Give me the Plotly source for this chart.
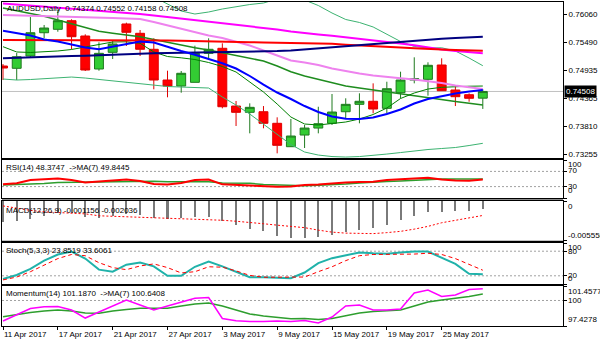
import plotly.graph_objects as go

# ---------------- AUDUSD daily, 11 Apr 2017 - 30 May 2017 ----------------
opens = [0.75018, 0.74972, 0.75218, 0.75685, 0.75753, 0.75926, 0.75619, 0.74958, 0.75292, 0.75860,
         0.75673, 0.75353, 0.74737, 0.74617, 0.74691, 0.75272, 0.75373, 0.74216, 0.74090, 0.74102,
         0.73870, 0.73401, 0.73635, 0.73775, 0.73870, 0.74102, 0.74250, 0.74311, 0.74170, 0.74483,
         0.74737, 0.74751, 0.75038, 0.74537, 0.74443, 0.74374]
highs = [0.75058, 0.75278, 0.75999, 0.75840, 0.76140, 0.75954, 0.75653, 0.75493, 0.75539, 0.75886,
         0.75739, 0.75573, 0.74924, 0.74918, 0.75425, 0.75573, 0.75473, 0.74317, 0.74270, 0.74216,
         0.73990, 0.73956, 0.73836, 0.74202, 0.74457, 0.74371, 0.74471, 0.74671, 0.74703, 0.74904,
         0.75192, 0.75092, 0.75172, 0.74617, 0.74471, 0.74552]
lows = [0.74737, 0.74737, 0.75178, 0.75573, 0.75705, 0.75353, 0.74918, 0.74924, 0.75158, 0.75419,
        0.75218, 0.74551, 0.74391, 0.74483, 0.74691, 0.75138, 0.74170, 0.73816, 0.73669, 0.73770,
        0.73268, 0.73395, 0.73375, 0.73669, 0.73836, 0.73970, 0.73870, 0.74070, 0.74070, 0.74371,
        0.74671, 0.74423, 0.74523, 0.74216, 0.74303, 0.74158]
closes = [0.74978, 0.75204, 0.75685, 0.75779, 0.75926, 0.75605, 0.74938, 0.75272, 0.75459, 0.75693,
          0.75353, 0.74737, 0.74617, 0.74872, 0.75272, 0.75353, 0.74202, 0.74090, 0.74190, 0.73870,
          0.73429, 0.73615, 0.73775, 0.73862, 0.74096, 0.74250, 0.74311, 0.74156, 0.74563, 0.74737,
          0.74763, 0.75032, 0.74523, 0.74403, 0.74371, 0.74508]
bars = list(range(len(closes)))

# moving averages / bands on the price chart
ma_navy = [0.75172, 0.75178, 0.75186, 0.75194, 0.75202, 0.75216, 0.75226, 0.75238, 0.75248, 0.75258,
           0.75268, 0.75272, 0.75278, 0.75282, 0.75286, 0.75290, 0.75294, 0.75300, 0.75304, 0.75308,
           0.75317, 0.75329, 0.75351, 0.75375, 0.75395, 0.75417, 0.75439, 0.75459, 0.75485, 0.75507,
           0.75527, 0.75549, 0.75563, 0.75579, 0.75593, 0.75605]
ma_red = [0.75541, 0.75541, 0.75540, 0.75540, 0.75539, 0.75539, 0.75539, 0.75538, 0.75538, 0.75537,
          0.75537, 0.75535, 0.75529, 0.75523, 0.75515, 0.75509, 0.75503, 0.75499, 0.75495, 0.75491,
          0.75487, 0.75485, 0.75483, 0.75479, 0.75463, 0.75445, 0.75427, 0.75413, 0.75399, 0.75387,
          0.75375, 0.75357, 0.75349, 0.75341, 0.75333, 0.75325]
ma_magenta = [0.76270, 0.76250, 0.76230, 0.76210, 0.76190, 0.76170, 0.76150, 0.76130, 0.76106, 0.76084,
              0.76060, 0.76030, 0.76000, 0.75964, 0.75932, 0.75902, 0.75870, 0.75840, 0.75810, 0.75780,
              0.75749, 0.75709, 0.75673, 0.75649, 0.75623, 0.75595, 0.75567, 0.75535, 0.75503, 0.75469,
              0.75433, 0.75389, 0.75349, 0.75319, 0.75295, 0.75272]
ma_violet = [0.76040, 0.76034, 0.76026, 0.76020, 0.76010, 0.76000, 0.75994, 0.75986, 0.75978, 0.75970,
             0.75960, 0.75900, 0.75834, 0.75769, 0.75709, 0.75629, 0.75579, 0.75499, 0.75429, 0.75329,
             0.75228, 0.75128, 0.75088, 0.75038, 0.74968, 0.74914, 0.74868, 0.74828, 0.74794, 0.74771,
             0.74747, 0.74717, 0.74677, 0.74627, 0.74587, 0.74557]
ma_blue = [0.75725, 0.75679, 0.75629, 0.75549, 0.75509, 0.75449, 0.75389, 0.75353, 0.75409, 0.75459,
           0.75509, 0.75489, 0.75399, 0.75319, 0.75242, 0.75158, 0.75074, 0.74968, 0.74818, 0.74647,
           0.74487, 0.74357, 0.74216, 0.74096, 0.74006, 0.73960, 0.73956, 0.73986, 0.74056, 0.74146,
           0.74266, 0.74357, 0.74417, 0.74467, 0.74505, 0.74537]
ma_fast = [0.75405, 0.75299, 0.75289, 0.75299, 0.75319, 0.75349, 0.75399, 0.75459, 0.75499, 0.75503,
           0.75473, 0.75299, 0.75208, 0.75182, 0.75148, 0.75088, 0.75008, 0.74898, 0.74697, 0.74497,
           0.74256, 0.73996, 0.73856, 0.73836, 0.73866, 0.73896, 0.73956, 0.74046, 0.74176, 0.74367,
           0.74477, 0.74557, 0.74591, 0.74607, 0.74613, 0.74617]
bb_mid = [0.76180, 0.76130, 0.76070, 0.76014, 0.75940, 0.75860, 0.75779, 0.75713, 0.75673, 0.75639,
          0.75605, 0.75549, 0.75489, 0.75429, 0.75383, 0.75339, 0.75285, 0.75229, 0.75184, 0.75118,
          0.75018, 0.74904, 0.74818, 0.74748, 0.74677, 0.74617, 0.74577, 0.74537, 0.74501, 0.74457,
          0.74413, 0.74377, 0.74341, 0.74306, 0.74271, 0.74237]
bb_up = [0.77543, 0.77443, 0.77343, 0.77242, 0.77102, 0.76942, 0.76781, 0.76681, 0.76621, 0.76581,
         0.76521, 0.76401, 0.76260, 0.76120, 0.76060, 0.76100, 0.76160, 0.76210, 0.76250, 0.76280,
         0.76361, 0.76381, 0.76341, 0.76230, 0.76080, 0.75950, 0.75890, 0.75800, 0.75659, 0.75509,
         0.75409, 0.75379, 0.75383, 0.75319, 0.75178, 0.75024]
bb_lo = [0.74757, 0.74737, 0.74747, 0.74767, 0.74787, 0.74797, 0.74777, 0.74747, 0.74717, 0.74688,
         0.74657, 0.74627, 0.74607, 0.74597, 0.74591, 0.74577, 0.74397, 0.74236, 0.74056, 0.73856,
         0.73645, 0.73445, 0.73295, 0.73234, 0.73204, 0.73194, 0.73204, 0.73224, 0.73254, 0.73284,
         0.73320, 0.73345, 0.73365, 0.73385, 0.73425, 0.73469]

# oscillators
rsi = [36.0, 38.7, 47.4, 50.0, 51.3, 47.4, 40.8, 43.4, 46.0, 48.7, 44.7, 36.8, 35.5, 39.5, 47.4, 48.7,
       36.0, 34.2, 34.2, 31.6, 29.7, 30.3, 34.2, 35.5, 38.7, 40.8, 42.1, 42.9, 47.4, 50.0, 52.6, 53.4,
       48.7, 46.0, 45.3, 48.3747]
rsi_ma = [34.2, 35.0, 36.0, 38.2, 40.8, 41.3, 42.1, 42.6, 43.4, 44.2, 44.7, 43.9, 42.9, 42.9, 42.9, 42.9,
          39.5, 38.7, 38.7, 35.5, 34.2, 32.9, 32.4, 33.7, 34.7, 36.8, 39.5, 42.1, 43.4, 44.7, 46.8, 48.7,
          50.0, 50.0, 50.0, 49.8445]
macd = [-0.00292, -0.00278, -0.00250, -0.00208, -0.00167, -0.00167, -0.00222, -0.00236, -0.00208, -0.00181,
        -0.00195, -0.00236, -0.00250, -0.00243, -0.00229, -0.00222, -0.00278, -0.00343, -0.00389, -0.00427,
        -0.00496, -0.00518, -0.00518, -0.00510, -0.00482, -0.00435, -0.00403, -0.00379, -0.00333, -0.00264,
        -0.00218, -0.00157, -0.00149, -0.00139, -0.00139, -0.001156]
macd_signal = [-0.00069, -0.00104, -0.00132, -0.00153, -0.00160, -0.00167, -0.00181, -0.00208, -0.00215, -0.00222,
               -0.00229, -0.00236, -0.00243, -0.00250, -0.00254, -0.00260, -0.00271, -0.00285, -0.00299, -0.00320,
               -0.00340, -0.00358, -0.00375, -0.00410, -0.00438, -0.00452, -0.00459, -0.00459, -0.00445, -0.00427,
               -0.00396, -0.00357, -0.00306, -0.00271, -0.00236, -0.002036]
stoch_k = [12.3, 22, 37, 57, 72, 79, 62, 35, 30, 47, 52.6, 43, 20, 20, 42, 55, 43, 30, 16.5, 16.5,
           15, 14, 28, 51, 63, 70, 77, 75, 74, 77, 79, 79, 63, 49, 24.7, 23.8519]
stoch_d = [10, 17, 30, 47, 62, 72, 69, 52, 40, 35, 44, 49, 40, 27, 30, 42, 41, 32, 21, 16.5,
           16.5, 16, 17, 30, 42, 57, 69, 72, 72, 72, 73, 75, 72, 62, 47, 33.6061]
momentum = [97.93, 98.54, 99.19, 99.37, 99.39, 99.04, 98.23, 98.84, 99.44, 100.05, 99.54, 99.04,
            99.44, 99.85, 100.22, 100.30, 98.18, 97.96, 97.88, 97.88, 97.93, 97.88, 97.98, 97.73,
            98.33, 99.44, 99.54, 99.04, 99.04, 99.14, 100.75, 101.05, 100.40, 100.55, 101.10, 101.187]
momentum_ma = [98.37, 98.59, 98.79, 98.94, 99.04, 98.94, 98.74, 98.71, 98.94, 99.09, 99.21, 99.21,
               99.21, 99.44, 99.64, 99.74, 99.44, 99.04, 98.64, 98.44, 98.31, 98.16, 98.18, 98.08,
               98.18, 98.43, 98.74, 98.89, 98.99, 99.04, 99.44, 99.85, 100.05, 100.20, 100.40, 100.6408]

# axis labels
date_ticks = [0, 4, 8, 12, 16, 20, 24, 28, 32]
date_labels = ["11 Apr 2017", "17 Apr 2017", "21 Apr 2017", "27 Apr 2017", "3 May 2017",
               "9 May 2017", "15 May 2017", "19 May 2017", "25 May 2017"]
price_ticks = [0.76060, 0.75490, 0.74935, 0.74365, 0.73810, 0.73255]
last_price = 0.74508

# ---------------- page geometry (pixels) ----------------
W, H = 600, 343
ML, MR, MT, MB = 2, 37, 2, 17
PW, PH = W - ML - MR, H - MT - MB
FONT = "Liberation Sans"


def fx(px):
    return (px - ML) / PW


def fy(py):
    return (H - MB - py) / PH


panels = {  # top / bottom pixel rows of each pane
    "y": (2, 158), "y2": (160, 198), "y3": (201, 240.5), "y4": (243, 284), "y5": (286, 326)}

fig = go.Figure()

# --- price pane ---
for vals, col, w in [(bb_up, "#3CB371", 1), (bb_lo, "#3CB371", 1), (bb_mid, "#1E8C1E", 1.6),
                     (ma_fast, "#008000", 1)]:
    fig.add_trace(go.Scatter(x=bars, y=vals, mode="lines", line=dict(color=col, width=w),
                             xaxis="x", yaxis="y", hoverinfo="skip"))

fig.add_trace(go.Candlestick(
    x=bars, open=opens, high=highs, low=lows, close=closes, xaxis="x", yaxis="y",
    increasing=dict(line=dict(color="#1F7A1F", width=1), fillcolor="#33CC33"),
    decreasing=dict(line=dict(color="#E00000", width=1), fillcolor="#FF0000"),
    whiskerwidth=0, hoverinfo="skip"))

for vals, col, w in [(ma_violet, "#EE82EE", 2), (ma_magenta, "#FF00FF", 2), (ma_red, "#FF0000", 2),
                     (ma_navy, "#000080", 2), (ma_blue, "#0000FF", 2)]:
    fig.add_trace(go.Scatter(x=bars, y=vals, mode="lines", line=dict(color=col, width=w),
                             xaxis="x", yaxis="y", hoverinfo="skip"))

# --- RSI ---
fig.add_trace(go.Scatter(x=bars, y=rsi_ma, mode="lines", line=dict(color="#2E9E2E", width=1.5),
                         xaxis="x2", yaxis="y2", hoverinfo="skip"))
fig.add_trace(go.Scatter(x=bars, y=rsi, mode="lines", line=dict(color="#FF0000", width=2),
                         xaxis="x2", yaxis="y2", hoverinfo="skip"))

# --- MACD ---
fig.add_trace(go.Bar(x=bars, y=macd, width=0.15, marker=dict(color="#7A7A7A", line=dict(width=0)),
                     xaxis="x3", yaxis="y3", hoverinfo="skip"))
fig.add_trace(go.Scatter(x=bars, y=macd_signal, mode="lines",
                         line=dict(color="#FF0000", width=1, dash="2px,2px"),
                         xaxis="x3", yaxis="y3", hoverinfo="skip"))

# --- Stochastic ---
fig.add_trace(go.Scatter(x=bars, y=stoch_k, mode="lines", line=dict(color="#20B2AA", width=2),
                         xaxis="x4", yaxis="y4", hoverinfo="skip"))
fig.add_trace(go.Scatter(x=bars, y=stoch_d, mode="lines",
                         line=dict(color="#FF0000", width=1, dash="4px,3px"),
                         xaxis="x4", yaxis="y4", hoverinfo="skip"))

# --- Momentum ---
fig.add_trace(go.Scatter(x=bars, y=momentum_ma, mode="lines", line=dict(color="#2E9E2E", width=1.5),
                         xaxis="x5", yaxis="y5", hoverinfo="skip"))
fig.add_trace(go.Scatter(x=bars, y=momentum, mode="lines", line=dict(color="#FF00FF", width=1.5),
                         xaxis="x5", yaxis="y5", hoverinfo="skip"))

# ---------------- axes ----------------
x_range = [-0.073, 40.85]
frame = dict(showline=True, mirror=True, linecolor="black", linewidth=1,
             showgrid=False, zeroline=False)
y_ranges = {"y": [0.731749, 0.763004], "y2": [0, 100], "y3": [-0.005558, 0],
            "y4": [0, 100], "y5": [97.4278, 101.4577]}
y_ticks = {"y2": [100, 70, 30, 0], "y3": [0, -0.005558], "y4": [100, 80, 20, 0],
           "y5": [101.4577, 100, 97.4278]}

layout_axes = {}
for n, key in enumerate(["y", "y2", "y3", "y4", "y5"], start=1):
    xname = "xaxis" if n == 1 else f"xaxis{n}"
    yname = "yaxis" if n == 1 else f"yaxis{n}"
    top, bot = panels[key]
    xa = dict(frame, domain=[0, 1], range=x_range, anchor=key, showticklabels=False, ticks="")
    if n > 1:
        xa["matches"] = "x"
    if n == 5:
        xa.update(showticklabels=True, ticks="outside", ticklen=3, tickcolor="black",
                  tickvals=date_ticks, ticktext=date_labels, ticklabelposition="outside right",
                  tickangle=0, tickfont=dict(family=FONT, size=8, color="black"))
    if n == 1:
        xa["rangeslider"] = dict(visible=False)
    ya = dict(frame, domain=[fy(bot), fy(top)], range=y_ranges[key], side="right",
              anchor="x" if n == 1 else f"x{n}", ticks="outside", ticklen=3, tickcolor="black",
              fixedrange=True)
    if n == 1:
        ya.update(tickvals=price_ticks, tickformat=".5f",
                  tickfont=dict(family=FONT, size=8, color="black"))
    else:
        ya.update(tickvals=y_ticks[key], showticklabels=False)
    layout_axes[xname] = xa
    layout_axes[yname] = ya

# ---------------- shapes: level lines, bid line, pane separators ----------------
shapes = []
for yref, lv in [("y2", 70), ("y2", 30), ("y4", 80), ("y4", 20), ("y5", 100)]:
    xr = "x" + yref[1:] + " domain"
    shapes.append(dict(type="line", xref=xr, yref=yref, x0=0, x1=1, y0=lv, y1=lv,
                       line=dict(color="#A0A0A0", width=1, dash="2px,2px"), layer="below"))
shapes.append(dict(type="line", xref="x domain", yref="y", x0=0, x1=1, y0=last_price, y1=last_price,
                   line=dict(color="#C0C0C0", width=1), layer="below"))
gaps = [(158, 160), (198, 201), (240.5, 243), (284, 286)]
for g0, g1 in gaps:
    shapes.append(dict(type="rect", xref="paper", yref="paper", x0=0, x1=1, y0=fy(g1), y1=fy(g0),
                       fillcolor="#8C8C8C", line=dict(width=0), layer="below"))


# ---------------- text ----------------
def txt(s, px, py, color="black", anchor="left", **kw):
    return dict(text=s, x=fx(px), y=fy(py), xref="paper", yref="paper", xanchor=anchor,
                yanchor="middle", showarrow=False, borderpad=0,
                font=dict(family=FONT, size=8, color=color), **kw)


nb = "\u00a0"
annotations = [
    txt(f"AUDUSD,Daily{nb}{nb}0.74374 0.74552 0.74158 0.74508", 6, 9),
    txt(f"RSI(14) 48.3747 {nb}->MA(7) 49.8445", 5, 167),
    txt("MACD(12,26,9) -0.001156 -0.002036", 5, 210),
    txt("Stoch(5,3,3) 23.8519 33.6061", 5, 250.3),
    txt(f"Momentum(14) 101.1870 {nb}->MA(7) 100.6408", 5, 293.7),
    # sub-pane scale labels
    txt("100", 567, 164.5), txt("70", 567, 170.3), txt("30", 567, 186.3), txt("0", 567, 190.5),
    txt("0", 567, 206.7), txt("-0.005558", 567, 235.5),
    txt("100", 567, 247.5), txt("80", 567, 251), txt("20", 567, 275.5), txt("0", 567, 278.5),
    txt("101.4577", 567, 291.7), txt("100", 567, 300.8), txt("97.4278", 567, 319),
]
annotations.append(dict(text=f"{last_price:.5f}", x=1, y=last_price, xref="paper", yref="y",
                        xanchor="left", yanchor="middle", xshift=1, showarrow=False,
                        bgcolor="black", borderpad=1,
                        font=dict(family=FONT, size=8, color="white")))

fig.update_layout(
    width=W, height=H, margin=dict(l=ML, r=MR, t=MT, b=MB, pad=0),
    paper_bgcolor="white", plot_bgcolor="rgba(0,0,0,0)",
    showlegend=False, hovermode=False, bargap=0, boxgap=0.35, boxgroupgap=0,
    font=dict(family=FONT, size=8, color="black"),
    shapes=shapes, annotations=annotations, **layout_axes)

fig.write_html("out.html")
